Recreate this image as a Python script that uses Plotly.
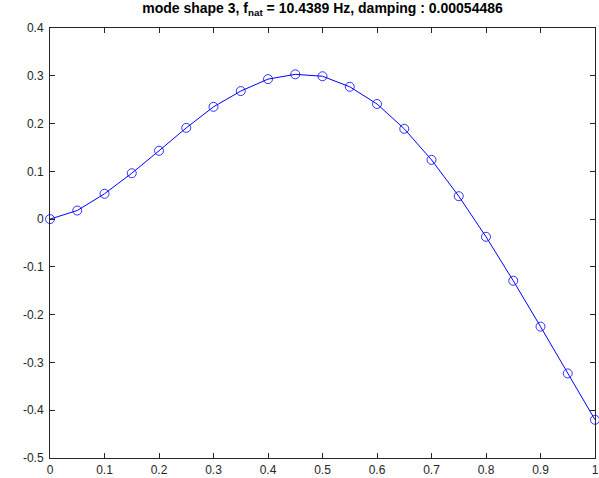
import plotly.graph_objects as go

x_vals = [0.0, 0.05, 0.1, 0.15, 0.2, 0.25, 0.3, 0.35, 0.4, 0.45, 0.5,
          0.55, 0.6, 0.65, 0.7, 0.75, 0.8, 0.85, 0.9, 0.95, 1.0]
y_vals = [0.0, 0.018, 0.053, 0.096, 0.143, 0.191, 0.235, 0.268, 0.293, 0.303, 0.299,
          0.277, 0.241, 0.189, 0.124, 0.048, -0.037, -0.129, -0.225, -0.323, -0.42]

x_ticks = [0, 0.1, 0.2, 0.3, 0.4, 0.5, 0.6, 0.7, 0.8, 0.9, 1]
x_labels = ["0", "0.1", "0.2", "0.3", "0.4", "0.5", "0.6", "0.7", "0.8", "0.9", "1"]
y_ticks = [-0.5, -0.4, -0.3, -0.2, -0.1, 0, 0.1, 0.2, 0.3, 0.4]
y_labels = ["-0.5", "-0.4", "-0.3", "-0.2", "-0.1", "0", "0.1", "0.2", "0.3", "0.4"]

title_text = "<b>mode shape 3, f<sub>nat</sub> = 10.4389 Hz, damping : 0.00054486</b>"

fig = go.Figure()
fig.add_trace(go.Scatter(
    x=x_vals, y=y_vals, mode="lines+markers",
    line=dict(color="#0000ff", width=1),
    marker=dict(symbol="circle-open", size=9, color="#0000ff", line=dict(width=0.8)),
    showlegend=False, cliponaxis=False,
))

axis_common = dict(
    showgrid=False, zeroline=False, showline=True, linecolor="#262626", linewidth=1,
    mirror="ticks", ticks="inside", ticklen=5, tickwidth=1, tickcolor="#262626",
    automargin=False,
    tickfont=dict(family="Liberation Sans, Arial, Helvetica, sans-serif", size=12, color="#262626"),
)

fig.update_layout(
    width=599, height=478,
    margin=dict(l=50, r=4, t=28, b=20),
    paper_bgcolor="white", plot_bgcolor="white",
    title=dict(text=title_text, x=0.5, xanchor="center", xref="paper",
               y=1, yref="container", yanchor="top", pad=dict(t=3),
               font=dict(family="Liberation Sans, Arial, Helvetica, sans-serif", size=14, color="black")),
    xaxis=dict(range=[0, 1], tickvals=x_ticks, ticktext=x_labels, ticklabelstandoff=1, **axis_common),
    yaxis=dict(range=[-0.5, 0.4], tickvals=y_ticks, ticktext=y_labels, ticklabelstandoff=3, **axis_common),
)

fig.write_html(
    "out.html",
    config={"displayModeBar": False},
    post_script="document.body.style.margin='0';document.body.style.overflow='hidden';",
)
